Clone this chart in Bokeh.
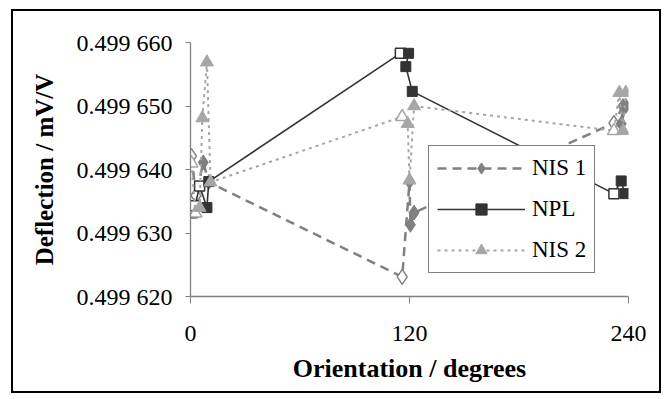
from bokeh.plotting import figure
from bokeh.models import (Range1d, FixedTicker, Legend, LegendItem, ColumnDataSource)
from bokeh.embed import file_html
from bokeh.resources import INLINE

# ---- data (orientation in degrees, deflection in mV/V) ----
nis1_x = [0.5, 3, 7, 10, 116, 120, 120.5, 122.5, 232, 237, 236, 238.5]
nis1_y = [0.4996421, 0.4996359, 0.4996411, 0.4996380, 0.4996231, 0.4996381,
          0.4996313, 0.4996332, 0.4996473, 0.4996500, 0.4996472, 0.4996500]
nis1_open = [True, True, False, False, True, False, False, False, True, False, False, False]

npl_x = [1, 2.5, 5, 9, 10, 115, 119.5, 118, 121.5, 232, 236, 238]
npl_y = [0.4996332, 0.4996343, 0.4996374, 0.4996340, 0.4996381, 0.4996583,
         0.4996583, 0.4996562, 0.4996523, 0.4996362, 0.4996382, 0.4996362]
npl_open = [True, True, True, False, False, True, False, False, False, True, False, False]

nis2_x = [0.5, 2.7, 5, 6.5, 9, 11, 116, 119, 120, 122.5, 232, 235, 237, 238.5]
nis2_y = [0.4996410, 0.4996331, 0.4996340, 0.4996481, 0.4996569, 0.4996380,
          0.4996483, 0.4996472, 0.4996383, 0.4996500, 0.4996461, 0.4996521,
          0.4996461, 0.4996521]
nis2_open = [True, True, False, False, False, False, True, False, False, False, True, False, False, False]

x_ticks = [0, 120, 240]
y_ticks = [0.49962, 0.49963, 0.49964, 0.49965, 0.49966]
y_tick_labels = ["0.499 620", "0.499 630", "0.499 640", "0.499 650", "0.499 660"]

FONT = "Liberation Serif"

p = figure(frame_width=438, frame_height=254, output_backend="svg", toolbar_location=None,
           x_range=Range1d(0, 240), y_range=Range1d(0.49962, 0.49966),
           min_border_left=177, min_border_right=31, min_border_top=31, min_border_bottom=95,
           styles={"border": "2px solid black", "margin-left": "11px", "margin-top": "9px"})
p.background_fill_color = "white"
p.border_fill_color = "white"
p.outline_line_color = None
p.xgrid.visible = False
p.ygrid.visible = False

for ax in (p.xaxis[0], p.yaxis[0]):
    ax.axis_line_color = "#808080"
    ax.axis_line_width = 1.3
    ax.major_tick_line_color = "#808080"
    ax.major_tick_in = 0
    ax.minor_tick_line_color = None
    ax.major_label_text_font = FONT
    ax.major_label_text_font_size = "24px"
    ax.major_label_text_color = "black"
    ax.axis_label_text_font = FONT
    ax.axis_label_text_font_style = "bold"
    ax.axis_label_text_color = "black"

p.xaxis.ticker = FixedTicker(ticks=x_ticks)
p.xaxis.major_tick_out = 7
p.xaxis.major_label_standoff = 22
p.xaxis.axis_label = "Orientation / degrees"
p.xaxis.axis_label_text_font_size = "26px"
p.xaxis.axis_label_standoff = 10

p.yaxis.ticker = FixedTicker(ticks=y_ticks)
p.yaxis.major_label_overrides = {t: l for t, l in zip(y_ticks, y_tick_labels)}
p.yaxis.major_tick_out = 5
p.yaxis.major_label_standoff = 13
p.yaxis.axis_label = "Deflection / mV/V"
p.yaxis.axis_label_text_font_size = "25px"
p.yaxis.axis_label_standoff = 16


def split(xs, ys, flags):
    o = dict(x=[x for x, f in zip(xs, flags) if f], y=[y for y, f in zip(ys, flags) if f])
    c = dict(x=[x for x, f in zip(xs, flags) if not f], y=[y for y, f in zip(ys, flags) if not f])
    return ColumnDataSource(o), ColumnDataSource(c)


items = []
series = [
    ("NIS 1", nis1_x, nis1_y, nis1_open, "#808080", "dash", "diamond", 15),
    ("NPL", npl_x, npl_y, npl_open, "#333333", "solid", "square", 10),
    ("NIS 2", nis2_x, nis2_y, nis2_open, "#a6a6a6", "dot", "triangle", 13),
]
for name, xs, ys, flags, col, dash, marker, size in series:
    if dash == "dash":
        lr = p.line(xs, ys, line_color=col, line_width=2.5, line_dash="9 6")
    elif dash == "dot":
        lr = p.line(xs, ys, line_color=col, line_width=2, line_dash="3 4")
    else:
        lr = p.line(xs, ys, line_color=col, line_width=1.6)
    so, sc = split(xs, ys, flags)
    p.scatter("x", "y", source=so, marker=marker, size=size, fill_color="white",
              line_color=col, line_width=1.5)
    fr = p.scatter("x", "y", source=sc, marker=marker, size=size, fill_color=col,
                   line_color=col, line_width=1)
    items.append(LegendItem(label=name, renderers=[lr, fr]))

legend = Legend(items=items, location=(238, 23), label_text_font=FONT,
                label_text_font_size="23px", label_text_color="black",
                glyph_width=88, glyph_height=28, label_height=28, spacing=13,
                padding=8, margin=0, label_standoff=7,
                border_line_color="black", border_line_width=1.2,
                background_fill_color="white", background_fill_alpha=1.0)
p.add_layout(legend, "center")

open("out.html", "w").write(file_html(p, INLINE))
